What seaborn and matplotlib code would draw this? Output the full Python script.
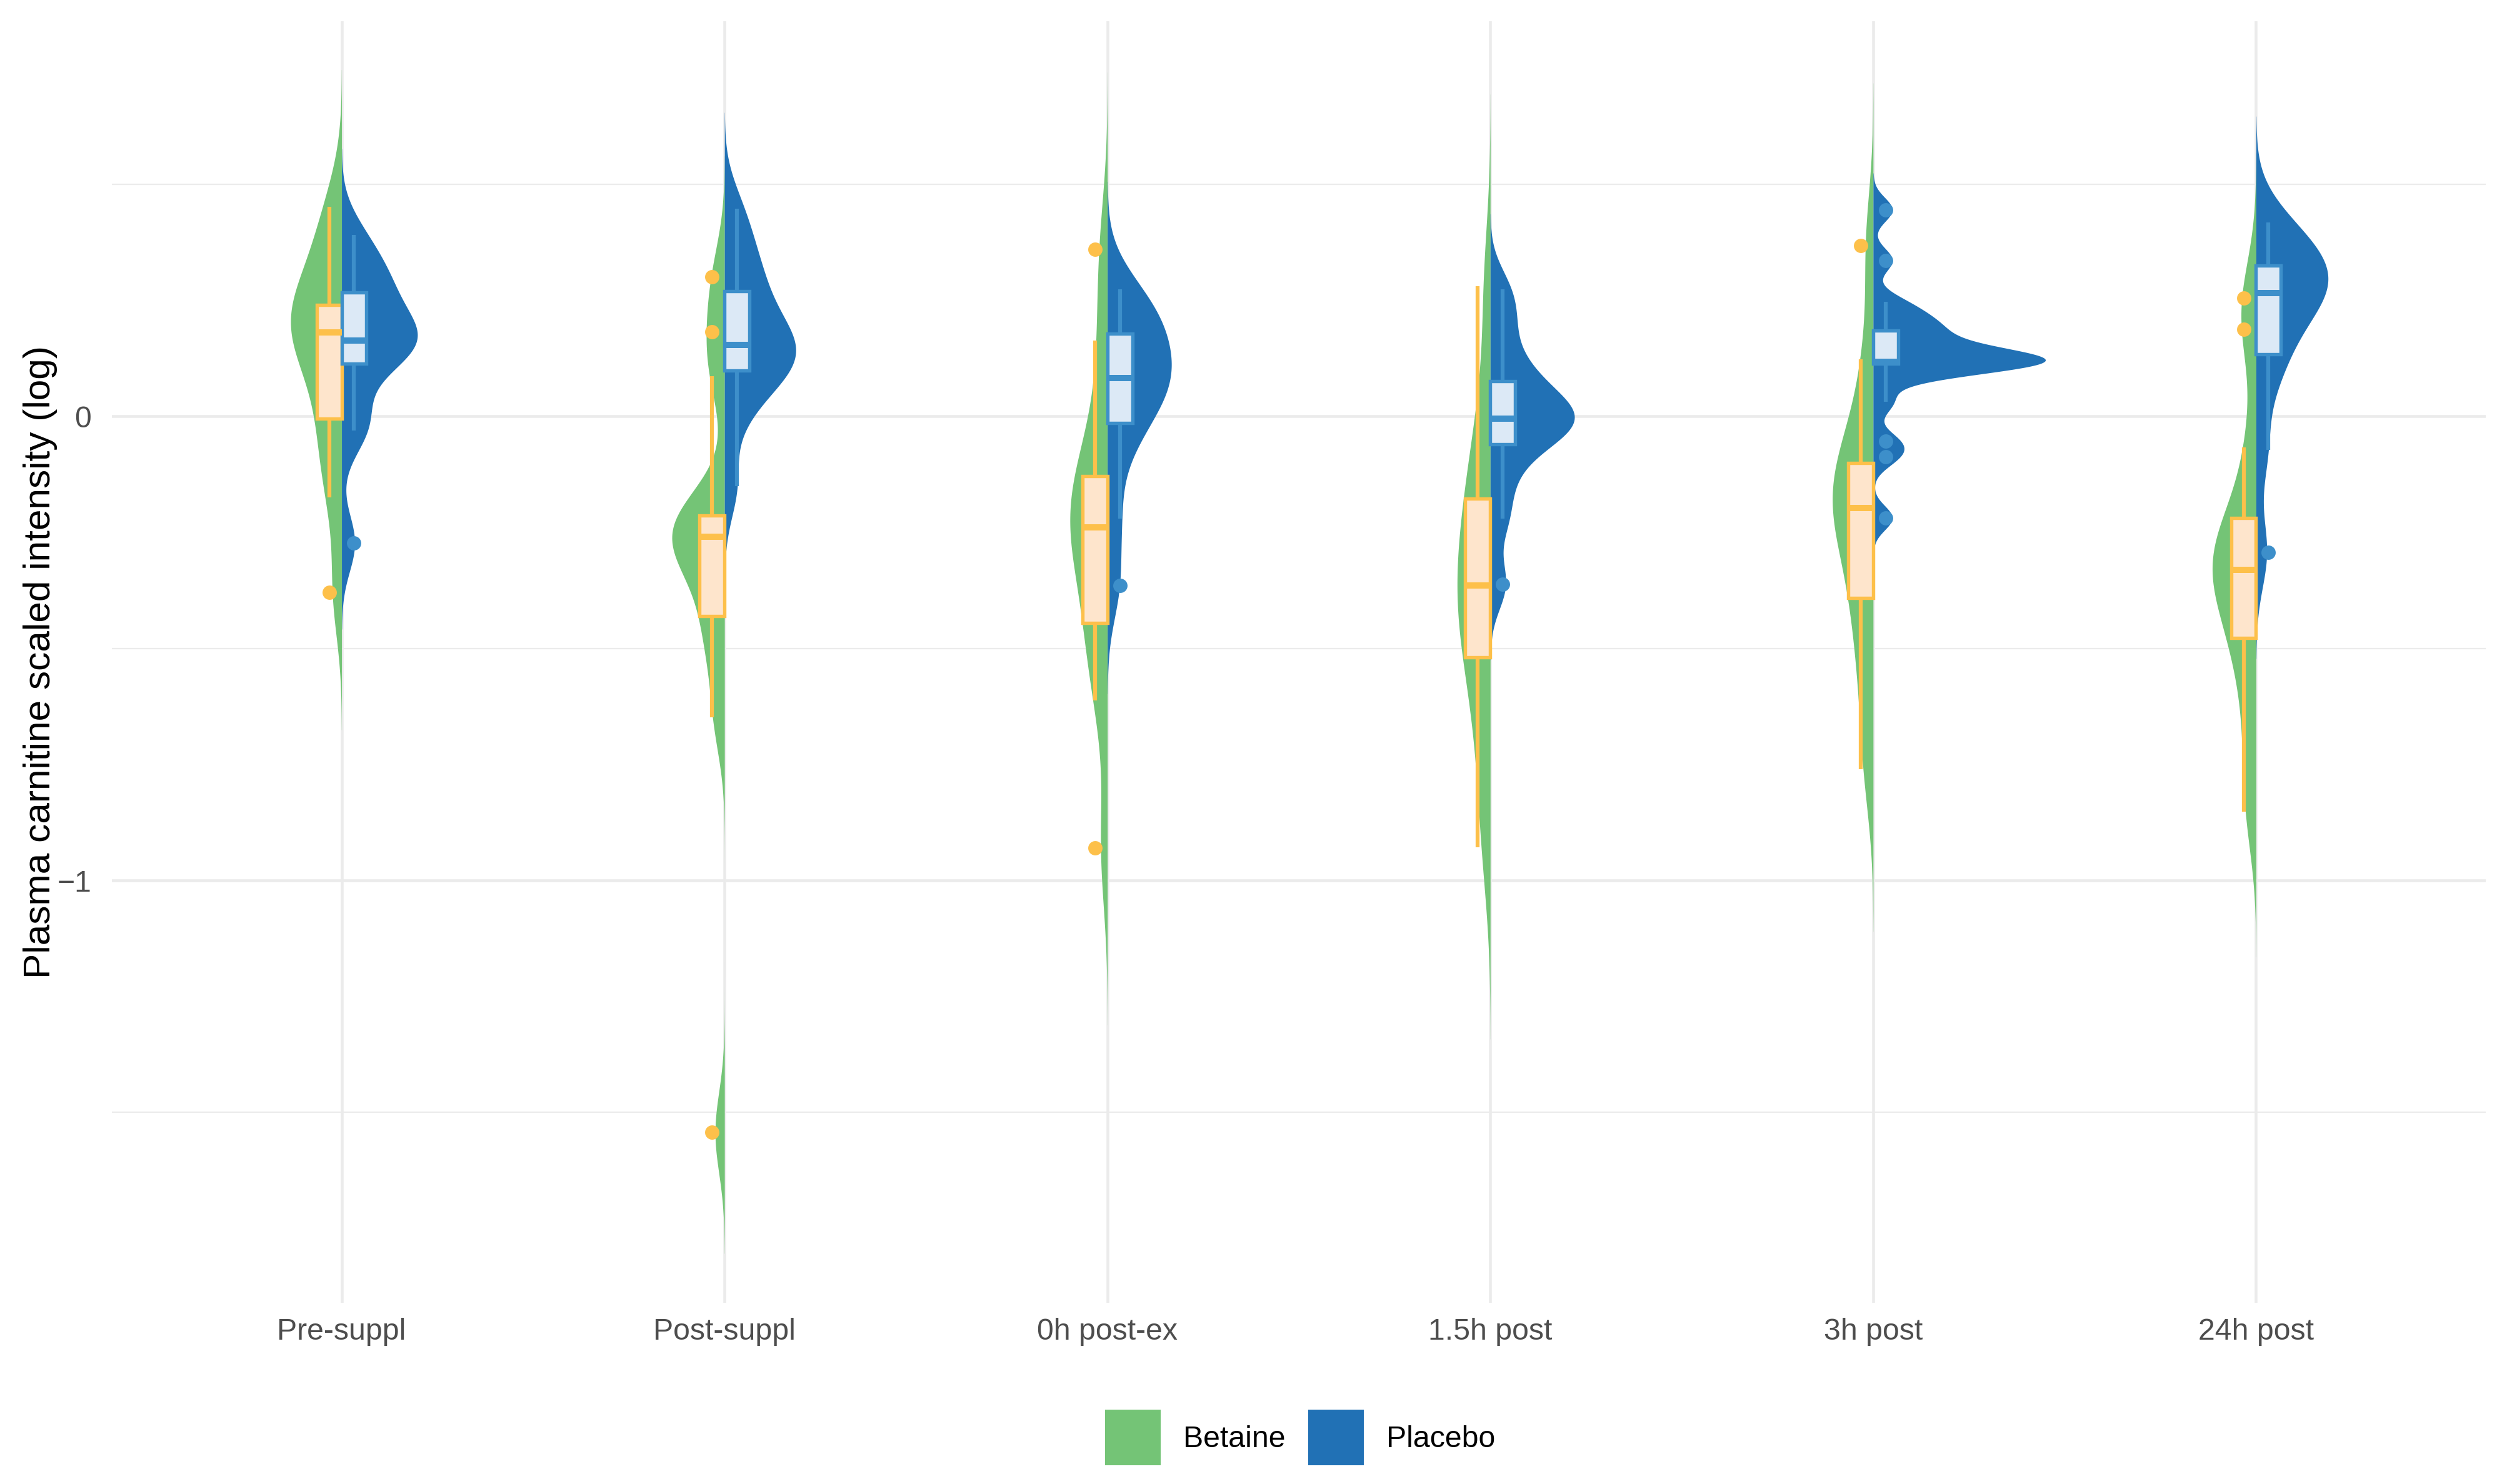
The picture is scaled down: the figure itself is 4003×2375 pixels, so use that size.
import numpy as np
import pandas as pd
import matplotlib.pyplot as plt
import seaborn as sns

# -------------------------------
# DATA (log scaled intensity)
# -------------------------------
times = ["Pre-suppl", "Post-suppl", "0h post-ex", "1.5h post", "3h post", "24h post"]
groups = ["Betaine", "Placebo"]

pre_betaine = [-0.38, -0.175, -0.08, -0.005, 0.08, 0.15, 0.18, 0.20, 0.22, 0.24, 0.30, 0.38, 0.451]
pre_placebo = [-0.273, -0.031, 0.0, 0.113, 0.14, 0.155, 0.163, 0.19, 0.21, 0.267, 0.29, 0.33, 0.391]

post_betaine = [-1.543, -0.648, -0.50, -0.43, -0.33, -0.28, -0.259, -0.24, -0.225, -0.214, 0.087, 0.182, 0.30]
post_placebo = [-0.15, 0.0, 0.07, 0.098, 0.12, 0.14, 0.154, 0.18, 0.22, 0.27, 0.31, 0.37, 0.447]

h0_betaine = [-0.93, -0.612, -0.50, -0.445, -0.33, -0.27, -0.24, -0.20, -0.16, -0.129, -0.02, 0.163, 0.36]
h0_placebo = [-0.365, -0.22, -0.08, -0.015, 0.03, 0.06, 0.082, 0.10, 0.14, 0.178, 0.20, 0.24, 0.273]

h15_betaine = [-0.928, -0.75, -0.62, -0.52, -0.46, -0.41, -0.365, -0.31, -0.24, -0.177, -0.10, 0.02, 0.28]
h15_placebo = [-0.362, -0.221, -0.13, -0.06, -0.03, -0.015, -0.005, 0.01, 0.04, 0.075, 0.12, 0.20, 0.273]

h3_betaine = [-0.76, -0.60, -0.47, -0.391, -0.30, -0.23, -0.198, -0.17, -0.13, -0.101, -0.02, 0.123, 0.368]
h3_placebo = [-0.219, -0.087, -0.053, 0.031, 0.09, 0.113, 0.115, 0.116, 0.117, 0.118, 0.118,
              0.125, 0.135, 0.15, 0.17, 0.185, 0.20, 0.22, 0.247, 0.336, 0.445]

h24_betaine = [-0.852, -0.70, -0.55, -0.478, -0.40, -0.35, -0.331, -0.30, -0.26, -0.219, -0.067, 0.187, 0.255]
h24_placebo = [-0.293, -0.072, 0.08, 0.134, 0.20, 0.24, 0.265, 0.28, 0.30, 0.324, 0.35, 0.38, 0.417]

series = {
    ("Pre-suppl", "Betaine"): pre_betaine, ("Pre-suppl", "Placebo"): pre_placebo,
    ("Post-suppl", "Betaine"): post_betaine, ("Post-suppl", "Placebo"): post_placebo,
    ("0h post-ex", "Betaine"): h0_betaine, ("0h post-ex", "Placebo"): h0_placebo,
    ("1.5h post", "Betaine"): h15_betaine, ("1.5h post", "Placebo"): h15_placebo,
    ("3h post", "Betaine"): h3_betaine, ("3h post", "Placebo"): h3_placebo,
    ("24h post", "Betaine"): h24_betaine, ("24h post", "Placebo"): h24_placebo,
}
df = pd.DataFrame(
    [(t, g, v) for (t, g), vals in series.items() for v in vals],
    columns=["time", "group", "value"],
)

violin_colors = {"Betaine": "#74C476", "Placebo": "#2171B5"}
box_fill = {"Betaine": "#FEE5CC", "Placebo": "#DCE9F6"}
box_line = {"Betaine": "#FDC04A", "Placebo": "#3D8FCA"}


def nrd0_factor(kde):
    # R's bw.nrd0 expressed as a gaussian_kde factor
    x = np.asarray(kde.dataset).ravel()
    sd = x.std(ddof=1)
    q75, q25 = np.percentile(x, [75, 25])
    lo = min(sd, (q75 - q25) / 1.34)
    return 0.9 * lo * len(x) ** -0.2 / sd


# -------------------------------
# PLOT
# -------------------------------
sns.set_style("white")
plt.rcParams["font.family"] = ["Liberation Sans", "DejaVu Sans"]

fig = plt.figure(figsize=(4004 / 300, 2375 / 300), dpi=300)
ax = fig.add_axes([179 / 4004, 1 - 2085 / 2375, (3977 - 179) / 4004, (2085 - 34) / 2375])

sns.violinplot(
    data=df, x="time", y="value", hue="group", order=times, hue_order=groups,
    split=True, dodge=True, inner=None, cut=3, gridsize=512, bw_method=nrd0_factor,
    density_norm="area", common_norm=True, width=0.9, palette=violin_colors,
    saturation=1, linewidth=0, ax=ax,
)

for g in groups:
    sns.boxplot(
        data=df[df["group"] == g], x="time", y="value", hue="group",
        order=times, hue_order=groups, dodge=True, width=0.13, gap=0,
        palette=box_fill, saturation=1, linecolor=box_line[g], linewidth=1.3,
        whis=1.5, showcaps=False,
        whiskerprops=dict(linewidth=1.5),
        flierprops=dict(marker="o", markersize=5.5, markerfacecolor=box_line[g],
                        markeredgecolor=box_line[g], markeredgewidth=0),
        medianprops=dict(color=box_line[g], linewidth=2.4),
        legend=False, ax=ax,
    )

ax.set_xlim(-0.6, 5.6)
ax.set_ylim(-1.91, 0.851)
ax.set_yticks([-1, 0])
ax.set_yticks([-1.5, -0.5, 0.5], minor=True)
ax.set_axisbelow(True)
ax.grid(True, which="major", color="#EBEBEB", linewidth=1.1)
ax.grid(True, which="minor", axis="y", color="#EBEBEB", linewidth=0.55)
ax.tick_params(axis="both", which="both", length=0, labelsize=11.6, labelcolor="#4D4D4D")
ax.tick_params(axis="y", pad=7.9)
ax.tick_params(axis="x", pad=5.8)
for s in ax.spines.values():
    s.set_visible(False)

ax.set_xlabel("")
ax.set_ylabel("Plasma carnitine scaled intensity (log)", fontsize=14.5, color="black")
ax.yaxis.set_label_coords(-0.0229, 0.5)

sns.move_legend(
    ax, "center", bbox_to_anchor=(0.5196, 0.0312), bbox_transform=fig.transFigure,
    ncol=2, title=None, frameon=False, fontsize=11.6, labelcolor="black",
    handlelength=1.84, handleheight=2.46, handletextpad=0.75, columnspacing=0.75,
)

fig.savefig("out.png", dpi=300)
